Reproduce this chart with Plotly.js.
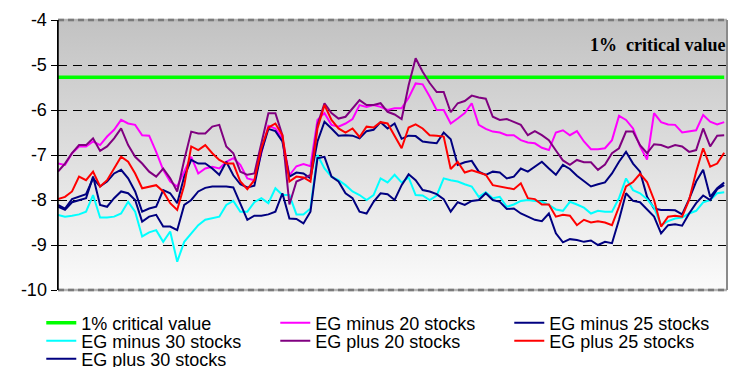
<!DOCTYPE html>
<html><head><meta charset="utf-8">
<script src="https://cdn.plot.ly/plotly-3.0.1.min.js"></script>
<style>
html,body{margin:0;padding:0;background:#fff;}
#wrap{position:relative;width:730px;height:367px;overflow:hidden;}
#bg{position:absolute;left:58px;top:20px;width:669px;height:270px;background:linear-gradient(to bottom,#c2c2c2 0%,#fbfbfb 100%);}
#chart{position:absolute;left:0;top:0;width:730px;height:367px;}
</style></head><body>
<div id="wrap"><div id="bg"></div><div id="chart"></div></div>
<script>
const criticalValue = -5.27;
const egMinus20 = [-7.19,-7.22,-6.96,-6.81,-6.81,-6.70,-6.78,-6.59,-6.44,-6.22,-6.30,-6.33,-6.56,-6.57,-6.93,-7.33,-7.59,-7.70,-7.37,-7.04,-7.41,-7.30,-7.26,-7.30,-7.15,
 -7.07,-7.22,-7.52,-7.56,-6.93,-6.35,-6.41,-6.63,-7.45,-7.25,-7.20,-7.25,-6.22,-6.07,-6.33,-6.37,-6.30,-6.20,-5.89,-5.93,-5.89,-5.93,-6.00,-5.96,
 -5.96,-5.73,-5.41,-5.43,-5.70,-6.00,-6.00,-6.30,-6.19,-6.07,-5.85,-6.33,-6.42,-6.48,-6.50,-6.56,-6.56,-6.67,-6.72,-6.74,-6.84,-6.89,-6.50,-6.45,
 -6.56,-6.47,-6.70,-6.87,-6.87,-6.85,-6.67,-6.13,-6.22,-6.41,-6.81,-7.10,-6.07,-6.27,-6.32,-6.33,-6.50,-6.48,-6.45,-6.11,-6.26,-6.32,-6.27];
const egMinus25 = [-8.11,-8.19,-7.98,-7.93,-7.87,-7.52,-7.70,-7.59,-7.41,-7.33,-7.52,-7.81,-8.26,-8.19,-8.15,-7.78,-7.85,-8.07,-7.48,-7.11,-7.19,-7.19,-7.30,-7.44,-7.15,
 -7.45,-7.65,-7.72,-7.68,-6.93,-6.42,-6.47,-6.70,-7.48,-7.39,-7.41,-7.52,-6.70,-6.26,-6.41,-6.57,-6.56,-6.57,-6.63,-6.47,-6.44,-6.27,-6.41,-6.30,
 -6.64,-6.57,-6.58,-6.70,-6.72,-6.74,-6.50,-6.65,-7.22,-7.16,-7.13,-7.37,-7.44,-7.37,-7.39,-7.52,-7.48,-7.30,-7.37,-7.26,-7.15,-7.30,-7.44,-7.22,
 -7.31,-7.46,-7.58,-7.70,-7.65,-7.61,-7.41,-7.15,-6.93,-7.19,-7.37,-7.93,-8.19,-8.22,-8.22,-8.23,-8.32,-7.98,-7.59,-7.33,-7.93,-7.74,-7.61];
const egMinus30 = [-8.33,-8.37,-8.35,-8.32,-8.26,-7.89,-8.39,-8.39,-8.37,-8.30,-8.04,-8.26,-8.81,-8.72,-8.67,-8.93,-8.70,-9.37,-8.93,-8.74,-8.56,-8.44,-8.41,-8.37,-8.11,
 -8.02,-8.26,-8.26,-8.05,-7.96,-8.07,-7.74,-7.89,-7.89,-8.32,-8.32,-8.19,-7.00,-7.30,-7.48,-7.56,-7.67,-7.81,-7.89,-8.00,-7.89,-7.52,-7.61,-7.44,
 -7.61,-7.50,-7.89,-7.90,-8.00,-7.90,-7.52,-7.56,-7.59,-7.65,-7.70,-7.93,-7.83,-7.96,-7.93,-8.15,-8.10,-8.02,-8.00,-8.02,-8.04,-8.11,-8.21,-8.24,
 -8.04,-8.10,-8.17,-8.30,-8.24,-8.26,-8.26,-7.96,-7.52,-7.78,-7.85,-7.98,-8.17,-8.56,-8.47,-8.41,-8.39,-8.30,-8.24,-8.05,-8.00,-7.85,-7.83];
const egPlus20 = [-7.37,-7.19,-6.96,-6.78,-6.78,-6.63,-6.91,-6.81,-6.63,-6.41,-6.78,-7.04,-7.19,-7.37,-7.48,-7.30,-7.52,-7.81,-7.11,-6.48,-6.52,-6.52,-6.37,-6.33,-6.81,
 -6.96,-7.37,-7.44,-7.41,-6.74,-6.07,-6.07,-6.56,-8.10,-7.59,-7.52,-7.44,-6.33,-5.85,-6.07,-6.19,-6.15,-5.96,-5.78,-5.89,-5.89,-5.85,-6.04,-6.10,
 -6.20,-5.45,-4.85,-5.15,-5.40,-5.60,-5.60,-6.05,-5.85,-5.80,-5.68,-5.72,-5.75,-6.15,-6.22,-6.20,-6.26,-6.33,-6.56,-6.47,-6.56,-6.67,-6.90,-7.12,
 -7.22,-7.11,-7.16,-7.16,-7.33,-7.21,-6.96,-6.85,-6.48,-6.48,-6.78,-6.96,-6.76,-6.78,-6.84,-6.78,-6.81,-6.93,-6.89,-6.41,-6.81,-6.57,-6.56];
const egPlus25 = [-7.98,-7.93,-7.81,-7.48,-7.56,-7.37,-7.70,-7.56,-7.30,-7.04,-7.15,-7.41,-7.74,-7.70,-7.67,-7.81,-8.07,-8.22,-7.67,-6.81,-6.89,-6.78,-6.96,-7.11,-7.19,
 -7.19,-7.59,-7.76,-7.56,-6.85,-6.39,-6.30,-6.56,-7.59,-7.48,-7.50,-7.59,-6.41,-5.89,-6.22,-6.41,-6.50,-6.41,-6.60,-6.37,-6.39,-6.27,-6.30,-6.56,
 -6.85,-6.39,-6.32,-6.41,-6.56,-6.57,-6.59,-7.31,-7.15,-7.39,-7.34,-7.39,-7.44,-7.67,-7.70,-7.74,-7.76,-7.63,-7.96,-7.98,-8.10,-8.10,-8.37,-8.33,
 -8.35,-8.56,-8.44,-8.50,-8.47,-8.50,-8.56,-8.15,-7.70,-7.60,-7.42,-7.60,-8.00,-8.59,-8.37,-8.35,-8.37,-8.00,-7.37,-6.85,-7.26,-7.19,-6.95];
const egPlus30 = [-8.15,-8.22,-8.05,-8.01,-7.96,-7.48,-8.11,-8.15,-7.96,-7.81,-7.85,-8.00,-8.48,-8.37,-8.33,-8.59,-8.59,-8.67,-8.11,-8.00,-7.81,-7.73,-7.70,-7.70,-7.70,
 -7.72,-8.10,-8.44,-8.35,-8.35,-8.32,-8.26,-7.85,-8.41,-8.42,-8.52,-8.26,-7.07,-7.04,-7.48,-7.59,-7.85,-7.96,-8.26,-8.30,-8.04,-7.85,-7.87,-8.00,
 -7.67,-7.43,-7.56,-7.78,-7.81,-7.87,-7.98,-8.26,-8.05,-8.11,-8.02,-8.00,-7.85,-8.00,-8.04,-8.20,-8.19,-8.30,-8.37,-8.44,-8.47,-8.30,-8.74,-8.94,
 -8.87,-8.89,-8.93,-8.90,-9.00,-8.93,-8.96,-8.44,-7.85,-8.02,-8.05,-8.20,-8.37,-8.74,-8.56,-8.54,-8.57,-8.30,-8.07,-7.90,-8.00,-7.76,-7.67];
const seriesNames = ['1% critical value','EG minus 20 stocks','EG minus 25 stocks','EG minus 30 stocks','EG plus 20 stocks','EG plus 25 stocks','EG plus 30 stocks'];
const yTicks = [-10,-9,-8,-7,-6,-5,-4];

const idx = egMinus20.map((_, i) => i);
const critical = idx.map(() => criticalValue);
const ys = [critical, egMinus20, egMinus25, egMinus30, egPlus20, egPlus25, egPlus30];
const colors = ['#00ff00','#ff00ff','#000080','#00ffff','#800080','#ff0000','#000080'];
const widths = [3.5,2,2,2,2,2,2];
const legendOf = ['legend','legend','legend','legend2','legend2','legend2','legend3'];

const traces = ys.map((y, k) => ({
  type:'scatter', mode:'lines', x: idx, y: y, name: seriesNames[k],
  line:{color: colors[k], width: widths[k]}, legend: legendOf[k], hoverinfo:'skip'
}));

const legBase = {orientation:'h', xanchor:'left', yanchor:'middle', x:-0.025,
  entrywidth:189, entrywidthmode:'pixels', font:{size:18, family:'Liberation Sans, Arial, sans-serif', color:'#000'},
  bgcolor:'rgba(0,0,0,0)', borderwidth:0, tracegroupgap:0, itemclick:false, itemdoubleclick:false};

const layout = {
  width:730, height:367,
  margin:{l:58, r:3, t:20, b:77, autoexpand:false},
  paper_bgcolor:'rgba(0,0,0,0)', plot_bgcolor:'rgba(0,0,0,0)',
  font:{family:'Liberation Sans, Arial, sans-serif', size:18, color:'#000'},
  showlegend:true,
  xaxis:{range:[0, idx.length - 0.6], showgrid:false, zeroline:false, showticklabels:false, ticks:'', showline:false, fixedrange:true},
  yaxis:{range:[-10,-4], tickvals:yTicks, ticktext:yTicks.map(String), showgrid:true, gridcolor:'#000', griddash:'9px,6px', gridwidth:1,
    zeroline:false, showline:true, linecolor:'#000', linewidth:1.5, ticks:'outside', ticklen:6, tickcolor:'#000', tickwidth:1,
    tickfont:{size:18}, fixedrange:true},
  legend: Object.assign({}, legBase, {y:-0.122}),
  legend2: Object.assign({}, legBase, {y:-0.189}),
  legend3: Object.assign({}, legBase, {y:-0.256}),
  shapes:[
    {type:'line', xref:'paper', yref:'paper', x0:0, x1:1, y0:1, y1:1, line:{color:'#b4b4b4', width:2.5}, layer:'above'},
    {type:'line', xref:'paper', yref:'paper', x0:0, x1:1, y0:1, y1:1, line:{color:'#7a7a7a', width:2.5, dash:'6px,4px'}, layer:'above'},
    {type:'line', xref:'paper', yref:'paper', x0:0, x1:1, y0:0, y1:0, line:{color:'#b4b4b4', width:2.5}, layer:'above'},
    {type:'line', xref:'paper', yref:'paper', x0:0, x1:1, y0:0, y1:0, line:{color:'#7a7a7a', width:2.5, dash:'6px,4px'}, layer:'above'},
    {type:'line', xref:'paper', yref:'paper', x0:1, x1:1, y0:0, y1:1, line:{color:'#8a8a8a', width:2}, layer:'above'},
    {type:'line', xref:'paper', yref:'paper', x0:0, x1:0, y0:0, y1:1, line:{color:'#000', width:1.5}, layer:'above'}
  ],
  annotations:[
    {xref:'paper', yref:'y', x:0.792, y:-4.56, xanchor:'left', yanchor:'middle', showarrow:false,
     text:'<b>1%  critical value</b>', font:{family:'Liberation Serif, Times New Roman, serif', size:18, color:'#000'}}
  ]
};

Plotly.newPlot('chart', traces, layout, {staticPlot:true, displayModeBar:false});
</script>
</body></html>
